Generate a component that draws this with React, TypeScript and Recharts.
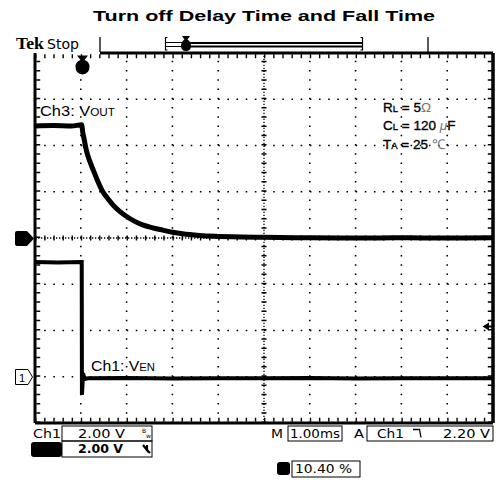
import { Line, LineChart, ReferenceLine, XAxis, YAxis } from "recharts";

// horizontal: M 1.00 ms/div, trigger at t = 0 (one division from the left edge)
const ch3TimeMs = [-1, -0.6, -0.2, 0.02, 0.04, 0.07, 0.12, 0.2, 0.28, 0.35, 0.48, 0.6, 0.7, 0.85, 1.0, 1.18, 1.35, 1.55, 1.79, 2.0, 2.22, 2.59, 3.0, 3.3, 4.0, 5.0, 6.0, 7.0, 8.0, 9.0];
const ch3Volts = [4.84, 4.86, 4.84, 4.9, 4.6, 4.3, 3.8, 3.3, 2.9, 2.55, 2.0, 1.68, 1.43, 1.15, 0.93, 0.72, 0.57, 0.45, 0.34, 0.25, 0.18, 0.11, 0.07, 0.05, 0.03, 0.01, 0.0, 0.01, 0.0, 0.01];

const ch1TimeMs = [-1, -0.5, 0, 0.02, 0.025, 0.05, 0.08, 0.15, 1, 2, 3, 4, 5, 6, 7, 8, 9];
const ch1Volts = [4.96, 4.94, 4.96, 4.96, -0.78, 0.15, -0.1, -0.07, -0.05, -0.08, -0.06, -0.07, -0.05, -0.08, -0.06, -0.07, -0.07];

// graticule divisions (centre lines drawn separately)
const gridTimes = [0, 1, 2, 3, 5, 6, 7, 8];
const gridLevels = [1, 2, 3, 5, 6, 7];

const VOLTS_PER_DIV = 2;
const CH3_GROUND = 4;
const CH1_GROUND = 1;

const ch3Data = ch3TimeMs.map((t, i) => ({ t, y: CH3_GROUND + ch3Volts[i] / VOLTS_PER_DIV }));
const ch1Data = ch1TimeMs.map((t, i) => ({ t, y: CH1_GROUND + ch1Volts[i] / VOLTS_PER_DIV }));

const sans = "'Liberation Sans', Arial, sans-serif";
const tek = "'DejaVu Sans', sans-serif";

function Overlay() {
  return (
    <svg width={502} height={480} style={{ position: "absolute", left: 0, top: 0, pointerEvents: "none" }}>
      <text x={93} y={20.5} fontFamily={sans} fontWeight="bold" fontSize={15.5} textLength={342} lengthAdjust="spacingAndGlyphs">
        Turn off Delay Time and Fall Time
      </text>

      {/* status bar */}
      <text x={16} y={49} fontFamily="'Liberation Serif', serif" fontWeight="bold" fontSize={17} textLength={28} lengthAdjust="spacingAndGlyphs">Tek</text>
      <text x={47} y={49} fontFamily={tek} fontSize={14} textLength={32} lengthAdjust="spacingAndGlyphs">Stop</text>
      <line x1={100} y1={37} x2={100} y2={52} stroke="#000" strokeWidth={1.3} />
      <line x1={428} y1={37} x2={428} y2={53} stroke="#000" strokeWidth={1.3} />
      <path d="M167.5,37.5 H165.5 V50 H167.5" fill="none" stroke="#000" strokeWidth={1.2} />
      <path d="M360.5,37.5 H362.5 V50 H360.5" fill="none" stroke="#000" strokeWidth={1.2} />
      <line x1={165} y1={42.5} x2={183} y2={42.5} stroke="#000" strokeWidth={1} />
      <line x1={165} y1={46.5} x2={183} y2={46.5} stroke="#000" strokeWidth={1} />
      <line x1={189} y1={43} x2={363} y2={43} stroke="#000" strokeWidth={2} />
      <line x1={189} y1={46.5} x2={363} y2={46.5} stroke="#000" strokeWidth={2} />
      <path d="M182,36 H190 L187.5,39.5 Q191,41.5 191,46 Q191,51 186,51 Q181,51 181,46 Q181,41.5 184.5,39.5 Z" fill="#000" />

      {/* trigger position marker */}
      <path d="M77,55.5 H88 L84.5,60 Q89.5,61.5 89.5,67 Q89.5,73.5 82.5,74.5 Q75.5,73.5 75.5,67 Q75.5,61.5 80.5,60 Z" fill="#000" />

      {/* channel ground markers */}
      <path d="M17,231 H27 L34,238.5 L27,246 H17 Q15,246 15,244 V233 Q15,231 17,231 Z" fill="#000" />
      <path d="M15.5,369.5 H28 L32.5,377 L28,384.5 H15.5 Z" fill="#fff" stroke="#000" strokeWidth={1} />
      <text x={19} y={382} fontFamily={sans} fontSize={11}>1</text>

      {/* trigger level */}
      <path d="M482.5,326.5 L489,322.5 L489,330.5 Z" fill="#000" />
      <line x1={488} y1={326.5} x2={492} y2={326.5} stroke="#000" strokeWidth={2} />

      {/* labels */}
      <text x={40} y={115.5} fontFamily={sans} fontSize={14} textLength={75} lengthAdjust="spacingAndGlyphs">
        Ch3: V<tspan fontSize={10}>OUT</tspan>
      </text>
      <text x={91} y={370.5} fontFamily={sans} fontSize={14} textLength={64} lengthAdjust="spacingAndGlyphs">
        Ch1: V<tspan fontSize={10}>EN</tspan>
      </text>
      <g fontFamily={sans} fontSize={13.5} stroke="#000" strokeWidth={0.35}>
        <text x={383} y={111.5}>
          R<tspan fontSize={9.5}>L</tspan> = 5<tspan fill="#777" stroke="none">Ω</tspan>
        </text>
        <text x={383} y={130}>
          C<tspan fontSize={9.5}>L</tspan> = 120 <tspan fill="#777" stroke="none" fontStyle="italic">μ</tspan>F
        </text>
        <text x={383} y={148.5}>
          T<tspan fontSize={9.5}>A</tspan> = 25 <tspan fill="#777" stroke="none">℃</tspan>
        </text>
      </g>

      {/* readouts */}
      <text x={33} y={437.5} fontFamily={tek} fontSize={12} textLength={28} lengthAdjust="spacingAndGlyphs">Ch1</text>
      <rect x={62} y={426} width={90} height={15} fill="none" stroke="#000" strokeWidth={1} />
      <text x={78} y={437.5} fontFamily={tek} fontSize={12} textLength={47} lengthAdjust="spacingAndGlyphs">2.00 V</text>
      <text x={142} y={433} fontFamily={tek} fontSize={6}>B</text>
      <text x={146} y={437.5} fontFamily={tek} fontSize={6}>w</text>
      <rect x={31} y={442} width={31} height={15} rx={3} fill="#000" />
      <rect x={62} y={441} width={90} height={16} fill="none" stroke="#000" strokeWidth={1} />
      <text x={78} y={453} fontFamily={tek} fontSize={12} fontWeight="bold" textLength={45} lengthAdjust="spacingAndGlyphs">2.00 V</text>
      <path d="M143,445 L147,450 V445 M147,450 L150,453" fill="none" stroke="#000" strokeWidth={2.2} />

      <text x={271} y={437.5} fontFamily={tek} fontSize={12} textLength={12} lengthAdjust="spacingAndGlyphs">M</text>
      <rect x={288} y={426} width={54} height={15} fill="none" stroke="#000" strokeWidth={1} />
      <text x={290} y={437.5} fontFamily={tek} fontSize={12} textLength={50} lengthAdjust="spacingAndGlyphs">1.00ms</text>
      <text x={354} y={437.5} fontFamily={tek} fontSize={12} textLength={10} lengthAdjust="spacingAndGlyphs">A</text>
      <rect x={367} y={426} width={126} height={15} fill="none" stroke="#000" strokeWidth={1} />
      <text x={377} y={437.5} fontFamily={tek} fontSize={12} textLength={27} lengthAdjust="spacingAndGlyphs">Ch1</text>
      <path d="M413,429.5 H419.5 L421,437.5" fill="none" stroke="#000" strokeWidth={1.3} />
      <text x={443} y={437.5} fontFamily={tek} fontSize={12} textLength={47} lengthAdjust="spacingAndGlyphs">2.20 V</text>

      <rect x={277} y={462} width={13} height={13} rx={3} fill="#000" />
      <rect x={292} y={461} width={68} height={16} fill="none" stroke="#000" strokeWidth={1} />
      <text x={295} y={473} fontFamily={tek} fontSize={12} textLength={57} lengthAdjust="spacingAndGlyphs">10.40 %</text>
    </svg>
  );
}

export default function App() {
  return (
    <div style={{ position: "absolute", left: 0, top: 0, width: 502, height: 480, background: "#fff" }}>
      <LineChart width={502} height={480} margin={{ top: 53, right: 9, bottom: 57, left: 35 }}>
        <XAxis type="number" dataKey="t" domain={[-1, 9]} allowDataOverflow hide />
        <YAxis type="number" dataKey="y" domain={[0, 8]} allowDataOverflow hide />

        {gridTimes.map((t) => (
          <ReferenceLine key={`gx${t}`} x={t} stroke="#000" strokeWidth={1.6} strokeDasharray="1.6 7.65" />
        ))}
        {gridLevels.map((d) => (
          <ReferenceLine key={`gy${d}`} y={d} stroke="#000" strokeWidth={1.6} strokeDasharray="1.6 7.56" />
        ))}

        {/* centre crosshair with minor ticks */}
        <ReferenceLine x={4} stroke="#000" strokeWidth={1.3} strokeDasharray="1.3 1.7" />
        <ReferenceLine x={4} stroke="#000" strokeWidth={5} strokeDasharray="1.4 7.85" />
        <ReferenceLine y={4} stroke="#000" strokeWidth={1.3} strokeDasharray="1.3 1.7" />
        <ReferenceLine y={4} stroke="#000" strokeWidth={5} strokeDasharray="1.4 7.76" />
        {/* edge ticks */}
        <ReferenceLine x={-0.93} stroke="#000" strokeWidth={4} strokeDasharray="1.4 7.85" />
        <ReferenceLine x={8.93} stroke="#000" strokeWidth={4} strokeDasharray="1.4 7.85" />
        <ReferenceLine y={7.93} stroke="#000" strokeWidth={4} strokeDasharray="1.4 7.76" />
        <ReferenceLine y={0.07} stroke="#000" strokeWidth={4} strokeDasharray="1.4 7.76" />

        <Line data={ch3Data} dataKey="y" type="monotone" stroke="#000" strokeWidth={5} dot={false} isAnimationActive={false} />
        <Line data={ch1Data} dataKey="y" type="linear" stroke="#000" strokeWidth={4} dot={false} isAnimationActive={false} />

        {/* graticule frame */}
        <ReferenceLine x={-1} stroke="#000" strokeWidth={3} />
        <ReferenceLine x={9} stroke="#000" strokeWidth={3.5} />
        <ReferenceLine y={0} stroke="#000" strokeWidth={3} />
        <ReferenceLine segment={[{ x: 0.42, y: 8 }, { x: 9, y: 8 }]} stroke="#000" strokeWidth={3} />
      </LineChart>
      <Overlay />
    </div>
  );
}
